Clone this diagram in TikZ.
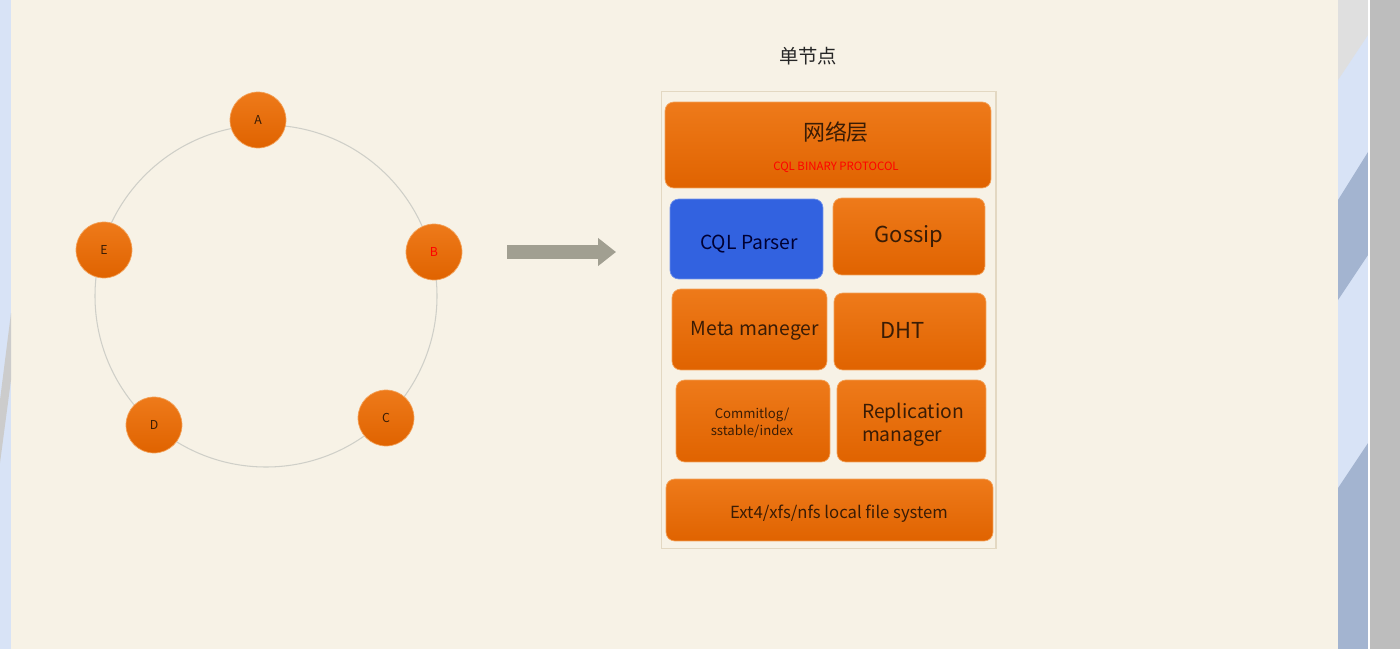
\documentclass[tikz,border=0pt]{standalone}
\usepackage{fontspec}
\setmainfont{Noto Sans CJK SC}
\usetikzlibrary{arrows.meta,positioning}
\definecolor{slide}{HTML}{F7F2E6}
\definecolor{orng}{HTML}{EE7A1A}
\definecolor{orngdark}{HTML}{E06300}
\definecolor{orngline}{HTML}{F3A25A}
\definecolor{txt}{HTML}{3A1C05}
\definecolor{parserblue}{HTML}{3262E0}
\definecolor{ringgray}{HTML}{CFCFC8}
\definecolor{frame}{HTML}{E3D8C2}
\definecolor{arrowgray}{HTML}{A19F91}
\definecolor{sideblue}{HTML}{D8E3F6}
\definecolor{bandblue}{HTML}{A3B4D0}

\tikzset{
  obox/.style={draw=orngline, rounded corners=5pt, top color=orng, bottom color=orngdark,
    text=txt, inner sep=0pt},
  rnode/.style={circle, draw=orngline, top color=orng, bottom color=orngdark,
    minimum size=1.12cm, inner sep=0pt, text=txt, font=\fontsize{7}{8}\selectfont},
  lbl/.style={text=txt, inner sep=0pt}
}

\begin{document}
\begin{tikzpicture}[x=0.02cm,y=-0.02cm]
  % slide and screen edges
  \fill[slide] (0,0) rectangle (1400,649);
  \useasboundingbox (0,0) rectangle (1400,649);
  \fill[sideblue] (0,0) rectangle (11,649);
  \fill[gray!40] (0,400) -- (11,313) -- (11,380) -- (0,463) -- cycle;
  \fill[sideblue] (1338,0) rectangle (1368,649);
  \fill[bandblue] (1338,200) -- (1368,152) -- (1368,255) -- (1338,300) -- cycle;
  \fill[bandblue] (1338,488) -- (1368,443) -- (1368,649) -- (1338,649) -- cycle;
  \fill[gray!25] (1338,80) -- (1368,35) -- (1368,0) -- (1338,0) -- cycle;
  \fill[white] (1368,0) rectangle (1370,649);
  \fill[gray!52] (1370,0) rectangle (1400,649);

  % ring of nodes
  \coordinate (ctr) at (266,296);
  \draw[ringgray, line width=0.6pt] (ctr) circle[x radius=171, y radius=171];
  \node[rnode] (a) at (258,120) {A};
  \node[rnode] (b) at (434,252) {\textcolor{red}{B}};
  \node[rnode] (c) at (386,418) {C};
  \node[rnode] (d) at (154,425) {D};
  \node[rnode] (e) at (104,250) {E};

  % arrow to the single node
  \coordinate (from) at (507,252);
  \coordinate (to) at (616,252);
  \draw[arrowgray, line width=0.28cm, -{Triangle[length=0.36cm,width=0.54cm]}] (from) -- (to);

  % single node stack
  \node[font=\fontsize{11}{13}\selectfont, text=black!85] (title) at (808,56) {单节点};
  \node[draw=frame, line width=0.6pt, minimum width=6.7cm, minimum height=9.16cm] (outer) at (828.5,320) {};
  \node[obox, minimum width=6.52cm, minimum height=1.72cm] (net) at (828,145) {};
  \node[lbl, font=\fontsize{12.5}{14}\selectfont] (netname) at (836,132) {网络层};
  \node[lbl, text=red, font=\fontsize{6.5}{8}\selectfont] (proto) at (836,167) {CQL BINARY PROTOCOL};
  \node[obox, draw=parserblue!70, top color=parserblue, bottom color=parserblue, text=blue!20!black,
    minimum width=3.06cm, minimum height=1.6cm] (parser) at (746.5,239) {};
  \node[lbl, text=blue!20!black, font=\fontsize{11}{13}\selectfont] (parsertxt) at (749,244) {CQL Parser};
  \node[obox, minimum width=3.04cm, minimum height=1.54cm, font=\fontsize{12.5}{14}\selectfont] (gossip) at (909,236.5) {Gossip};
  \node[obox, minimum width=3.1cm, minimum height=1.62cm, font=\fontsize{11}{13}\selectfont] (meta) at (749.5,329.5) {};
  \node[lbl, font=\fontsize{11}{13}\selectfont] (metatxt) at (755,331) {Meta maneger};
  \node[obox, minimum width=3.04cm, minimum height=1.54cm, font=\fontsize{12.5}{14}\selectfont] (dht) at (910,331.5) {};
  \node[lbl, font=\fontsize{12.5}{14}\selectfont] (dhttxt) at (903,330) {DHT};
  \node[obox, minimum width=3.08cm, minimum height=1.64cm] (commit) at (753,421) {};
  \node[lbl, align=center, font=\fontsize{7.5}{10}\selectfont] (committxt) at (752,423) {Commitlog/\\sstable/index};
  \node[obox, minimum width=2.98cm, minimum height=1.64cm] (repl) at (911.5,421) {};
  \node[lbl, align=left, font=\fontsize{11}{13}\selectfont] (repltxt) at (913,425) {Replication\\manager};
  \node[obox, minimum width=6.54cm, minimum height=1.24cm] (ext) at (829.5,510) {};
  \node[lbl, font=\fontsize{9.5}{11}\selectfont] (exttxt) at (839,514) {Ext4/xfs/nfs local file system};
\end{tikzpicture}
\end{document}
